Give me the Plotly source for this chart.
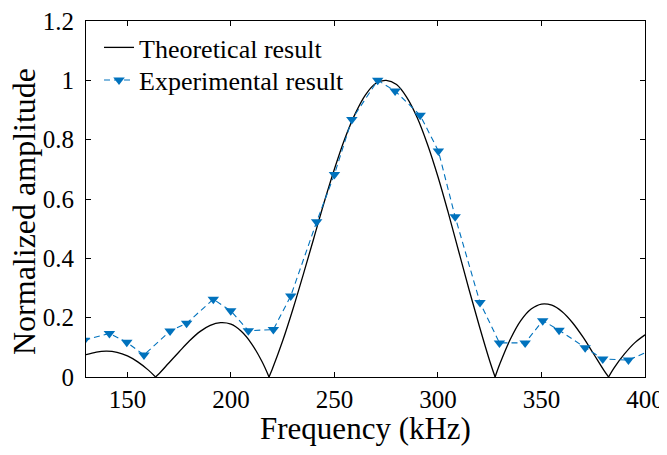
import plotly.graph_objects as go

# Theoretical curve, one list per lobe (zeros repeated at lobe ends)
theo_f_a = [130, 135, 140, 145, 150, 155, 160, 163.6]
theo_v_a = [0.075, 0.084, 0.087, 0.083, 0.071, 0.051, 0.024, 0]
theo_f_b = [163.6, 165, 170, 175, 180, 185, 190, 195, 200, 205, 210, 215, 218.4]
theo_v_b = [0, 0.009, 0.047, 0.085, 0.122, 0.153, 0.174, 0.183, 0.178, 0.154, 0.112, 0.052, 0]
theo_f_c = [218.4, 220, 225, 230, 235, 240, 245, 250, 255, 260, 265, 270, 275, 280,
            285, 290, 295, 300, 305, 310, 315, 320, 325, 327.6]
theo_v_c = [0, 0.027, 0.122, 0.230, 0.347, 0.467, 0.588, 0.701, 0.803, 0.887, 0.951, 0.990,
            1.0, 0.986, 0.942, 0.874, 0.783, 0.675, 0.553, 0.424, 0.295, 0.171, 0.054, 0]
theo_f_d = [327.6, 330, 335, 340, 345, 350, 355, 360, 365, 370, 375, 380, 382.4]
theo_v_d = [0, 0.046, 0.128, 0.190, 0.229, 0.246, 0.242, 0.220, 0.183, 0.135, 0.080, 0.024, 0]
theo_f_e = [382.4, 385, 390, 395, 400]
theo_v_e = [0, 0.030, 0.077, 0.115, 0.142]

# Experimental data
exp_f = [129.2, 141.3, 149.7, 158.0, 170.6, 178.6, 191.5, 199.9, 208.4, 220.5, 228.9,
         241.4, 250.0, 258.4, 270.9, 279.3, 291.4, 300.2, 308.3, 320.3, 329.7, 342.1,
         350.6, 358.5, 371.1, 379.6, 392.0, 408.3]
exp_v = [0.124, 0.147, 0.117, 0.074, 0.155, 0.181, 0.262, 0.223, 0.156, 0.160, 0.273,
         0.523, 0.683, 0.868, 1.0, 0.964, 0.882, 0.762, 0.540, 0.251, 0.115, 0.115,
         0.190, 0.158, 0.099, 0.061, 0.057, 0.107]

x_ticks = [150, 200, 250, 300, 350, 400]
y_ticks = [0, 0.2, 0.4, 0.6, 0.8, 1.0, 1.2]
y_tick_text = ["0", "0.2", "0.4", "0.6", "0.8", "1", "1.2"]

theo_x, theo_y = [], []
for fs, vs in [(theo_f_a, theo_v_a), (theo_f_b, theo_v_b), (theo_f_c, theo_v_c),
               (theo_f_d, theo_v_d), (theo_f_e, theo_v_e)]:
    if theo_x:
        theo_x.append(None)
        theo_y.append(None)
    theo_x += fs
    theo_y += vs

FONT = "Liberation Serif"
BLUE = "#0072BD"

fig = go.Figure()
fig.add_trace(go.Scatter(
    x=theo_x, y=theo_y, mode="lines", name="Theoretical result",
    line=dict(color="black", width=1.3, shape="spline", smoothing=1.0),
    connectgaps=False, legend="legend",
))
fig.add_trace(go.Scatter(
    x=exp_f, y=exp_v, mode="lines+markers", name="Experimental result",
    line=dict(color=BLUE, width=1.1, dash="6px,4px"),
    marker=dict(symbol="triangle-down", size=10, color=BLUE),
    legend="legend2",
))

axis_common = dict(
    showline=True, linecolor="black", linewidth=1, mirror="ticks",
    ticks="inside", ticklen=5, tickcolor="black", tickwidth=1,
    showgrid=False, zeroline=False, automargin=False,
    ticklabeloverflow="allow",
    tickfont=dict(family=FONT, size=25, color="black"),
)
fig.update_xaxes(range=[130, 400], tickvals=x_ticks,
                 title=dict(text="Frequency (kHz)", font=dict(family=FONT, size=31, color="black"),
                            standoff=9),
                 **axis_common)
fig.update_yaxes(range=[0, 1.2], tickvals=y_ticks, ticktext=y_tick_text,
                 ticklabelstandoff=6, **axis_common)

fig.add_annotation(
    text="Normalized amplitude", textangle=-90, showarrow=False,
    xref="paper", yref="paper", x=-0.1109, y=0.4635, xanchor="center", yanchor="middle",
    font=dict(family=FONT, size=32, color="black"),
)

leg_common = dict(xanchor="left", yanchor="middle", bgcolor="rgba(0,0,0,0)",
                  borderwidth=0, font=dict(family=FONT, size=26, color="black"),
                  itemwidth=30)
fig.update_layout(
    width=659, height=438,
    margin=dict(l=78, r=22, t=13, b=69, autoexpand=False),
    plot_bgcolor="white", paper_bgcolor="white",
    font=dict(family=FONT, color="black"),
    legend=dict(x=0.0233, y=0.9256, **leg_common),
    legend2=dict(x=0.0233, y=0.834, **leg_common),
    showlegend=True,
)

fig.write_html("out.html")
